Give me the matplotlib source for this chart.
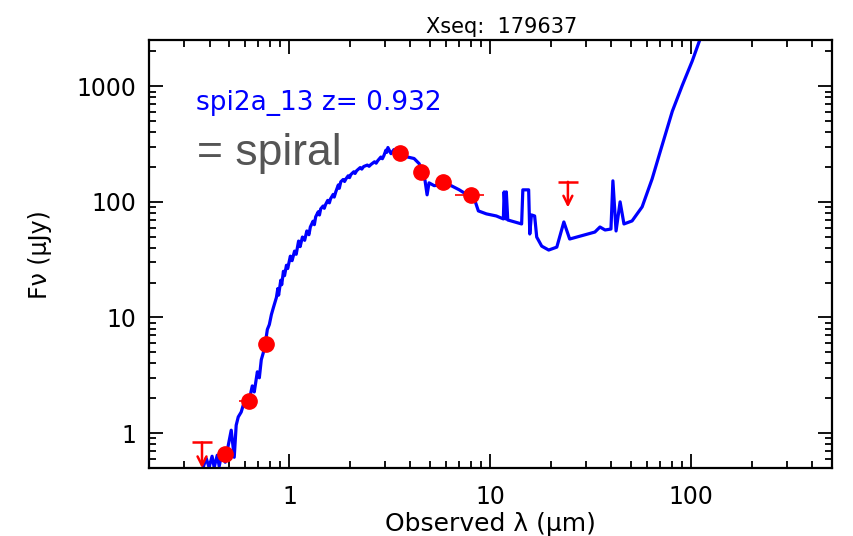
import matplotlib
matplotlib.use("Agg")
import matplotlib.pyplot as plt
from matplotlib.ticker import FixedLocator, NullFormatter, LogLocator

# Best-fit SED template (observed wavelength in micron, flux density in microJy)
template_wave = [0.372, 0.385, 0.398, 0.412, 0.422, 0.437, 0.447, 0.462, 0.479, 0.495,
                 0.513, 0.531, 0.543, 0.556, 0.575, 0.589, 0.610, 0.631, 0.653, 0.668,
                 0.692, 0.708, 0.724, 0.741, 0.759, 0.776, 0.794, 0.813, 0.832, 0.861,
                 0.875, 0.883, 0.891, 0.905, 0.915, 0.933, 0.945, 0.966, 0.98, 1.01,
                 1.03, 1.06, 1.08, 1.11, 1.13, 1.16, 1.19, 1.22, 1.25, 1.27,
                 1.31, 1.33, 1.35, 1.39, 1.41, 1.43, 1.47, 1.49, 1.51, 1.55,
                 1.58, 1.60, 1.65, 1.67, 1.70, 1.75, 1.77, 1.80, 1.85, 1.88,
                 1.91, 1.96, 1.99, 2.02, 2.09, 2.12, 2.16, 2.25, 2.29, 2.34,
                 2.44, 2.49, 2.54, 2.65, 2.70, 2.75, 2.85, 2.90, 2.95, 3.02,
                 3.05, 3.09, 3.20, 3.31, 3.47, 3.80, 4.17, 4.42, 4.57,
                 4.73, 4.84, 4.95, 5.25, 5.69, 6.38, 7.00, 7.67, 8.32, 8.71,
                 9.55, 10.7, 11.6, 11.7, 11.9, 12.0, 12.2, 14.3, 14.5, 15.5,
                 15.7, 16.0, 16.6, 17.0, 18.0, 19.5, 21.4, 23.2, 24.8, 33.1,
                 35.1, 37.2, 39.8, 40.7, 42.2, 44.2, 46.2, 50.7, 56.9, 63.8,
                 70.0, 80.4, 90.2, 101, 111, 143]
template_flux = [0.506, 0.607, 0.506, 0.631, 0.506, 0.644, 0.517, 0.684, 0.560, 0.771,
                 1.06, 0.618, 1.17, 1.38, 1.52, 1.75, 2.01, 1.94, 2.56, 2.27,
                 3.39, 3.01, 4.31, 4.96, 6.06, 7.87, 8.69, 10.6, 12.2, 14.9,
                 17.8, 15.6, 17.5, 21.0, 19.2, 25.1, 23.0, 28.3, 26.5, 33.9,
                 31.0, 37.5, 35.2, 45.8, 41.0, 49.6, 46.5, 56.0, 52.0, 60.6,
                 68.0, 63.5, 74.1, 82.0, 77.0, 86.9, 92.0, 88.0, 94.2, 103,
                 98, 106, 116, 110, 122, 140, 131, 149, 156, 150,
                 158, 168, 162, 172, 182, 176, 186, 198, 192, 202,
                 208, 203, 210, 222, 216, 227, 244, 236, 251, 280,
                 268, 295, 261, 283, 261, 246, 237, 214, 186,
                 152, 115, 146, 138, 141, 138, 127, 115, 106, 83.5,
                 78.7, 75.5, 71.2, 122, 71.2, 122, 69.7, 64.4, 127, 127,
                 52.7, 77.1, 75.5, 49.6, 41.4, 38.3, 40.6, 67.0, 47.7, 54.8,
                 60.6, 57.1, 58.2, 152, 56.0, 100, 64.4, 68.4, 90.5, 158,
                 272, 607, 1020, 1650, 2610, 7110]

# Photometric detections
phot_wave = [0.479, 0.63, 0.767, 3.55, 4.52, 5.8, 8.03]
phot_flux = [0.66, 1.9, 5.95, 262, 183, 149, 115]
phot_wlo = [0.0, 0.07, 0.0, 0.0, 0.35, 0.43, 1.4]
phot_whi = [0.0, 0.04, 0.0, 0.0, 0.0, 0.58, 1.3]

# Upper limits
lim_wave = [0.367, 24.3]
lim_flux = [0.83, 149]

fig = plt.figure(figsize=(8.54, 5.36), dpi=100)
ax = fig.add_axes([0.1745, 0.127, 0.7995, 0.798])

ax.plot(template_wave, template_flux, color="#0000ff", lw=2.3, zorder=2)

ax.errorbar(phot_wave, phot_flux, xerr=[phot_wlo, phot_whi], fmt="o",
            color="#ff0000", ms=11, elinewidth=1.2, capsize=0, zorder=3)

for w, f in zip(lim_wave, lim_flux):
    ax.annotate("", xy=(w, f * 0.6), xytext=(w, f),
                arrowprops=dict(arrowstyle="->", color="#ff0000", lw=1.8,
                                mutation_scale=16, shrinkA=0, shrinkB=0),
                annotation_clip=False, zorder=3)
    ax.plot([w], [f], marker="_", ms=14, mew=1.8, color="#ff0000", zorder=3)

ax.set_xscale("log")
ax.set_yscale("log")
ax.set_xlim(0.2, 500)
ax.set_ylim(0.5, 2500)

ax.xaxis.set_major_locator(FixedLocator([1, 10, 100]))
ax.set_xticklabels(["1", "10", "100"])
ax.xaxis.set_minor_locator(LogLocator(base=10, subs=range(2, 10)))
ax.xaxis.set_minor_formatter(NullFormatter())
ax.yaxis.set_major_locator(FixedLocator([1, 10, 100, 1000]))
ax.set_yticklabels(["1", "10", "100", "1000"])
ax.yaxis.set_minor_locator(LogLocator(base=10, subs=range(2, 10)))
ax.yaxis.set_minor_formatter(NullFormatter())

ax.tick_params(which="both", direction="in", top=True, right=True, width=1.3)
ax.tick_params(which="major", length=10, labelsize=17, pad=9)
ax.tick_params(which="minor", length=5)
ax.tick_params(axis="x", which="major", pad=12)
for sp in ax.spines.values():
    sp.set_linewidth(1.6)

ax.set_title("Xseq:  179637", fontsize=15, pad=5, x=0.516)
fig.text(0.574, 0.022, "Observed λ (μm)", ha="center", va="center", fontsize=18)
fig.text(0.047, 0.525, "Fν (μJy)", ha="center", va="center", rotation=90, fontsize=17)

ax.text(0.069, 0.836, "spi2a_13 z= 0.932", transform=ax.transAxes, color="#0000ff",
        fontsize=19, ha="left", va="baseline")
ax.text(0.07, 0.708, "= spiral", transform=ax.transAxes, color="#555555",
        fontsize=32, ha="left", va="baseline", family="Liberation Sans")

fig.savefig("out.png", dpi=100)
